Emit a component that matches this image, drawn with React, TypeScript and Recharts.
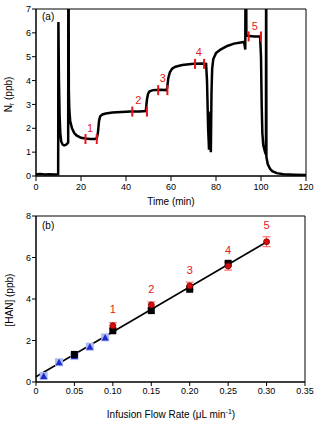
import React from "react";
import {
  ComposedChart,
  Line,
  Scatter,
  XAxis,
  YAxis,
  ReferenceArea,
  ErrorBar,
} from "recharts";

// panel (a): time trace
const traceT = [
  0, 2, 4, 6, 8, 9.7, 9.85, 9.95, 10.2, 10.5, 10.8, 11.2, 11.8, 12.5, 13.2, 13.8, 14.3, 14.4,
  14.6, 14.8, 15.2, 16, 17, 18, 19, 20, 22, 24, 26, 27, 27.5, 28, 28.5, 29.5, 31, 34, 38, 42,
  46, 48.8, 49.3, 49.8, 50.5, 52, 55, 58, 58.3, 58.8, 59.5, 60.5, 62, 65, 70, 74, 75.6, 76.0,
  76.5, 76.9, 77.1, 77.3, 77.5, 77.7, 78.0, 78.3, 78.8, 80, 82, 85, 88, 91, 92.5, 93.0, 93.3,
  93.5, 94, 97, 99.6, 100.0, 100.3, 100.6, 101, 101.8, 102.2, 102.3, 102.4, 103, 104, 105,
  107, 110, 115, 120,
];
const traceV = [
  0.07, 0.08, 0.06, 0.07, 0.06, 0.07, 0.07, 6.45, 4.0, 2.5, 1.8, 1.45, 1.32, 1.28, 1.3, 1.35,
  1.4, 12, 3.6, 2.8, 2.3, 2.0, 1.8, 1.7, 1.65, 1.6, 1.57, 1.55, 1.55, 1.57, 1.8, 2.3, 2.5,
  2.58, 2.62, 2.66, 2.68, 2.7, 2.7, 2.72, 3.2, 3.45, 3.55, 3.6, 3.62, 3.6, 3.7, 4.1, 4.35,
  4.5, 4.58, 4.65, 4.7, 4.72, 4.7, 4.0, 2.0, 1.1, 2.3, 1.2, 2.7, 1.0, 3.5, 4.5, 4.9, 5.15,
  5.3, 5.45, 5.55, 5.6, 5.62, 5.3, 12, 5.9, 5.88, 5.85, 5.85, 5.0, 3.0, 1.8, 1.3, 1.0, 0.9,
  12, 0.8, 0.5, 0.3, 0.2, 0.12, 0.07, 0.05, 0.04,
];
const markT = [22, 27, 42.8, 49.3, 54.3, 58.4, 70.7, 74.7, 94.5, 100];
const markV = [1.55, 1.55, 2.7, 2.7, 3.6, 3.6, 4.7, 4.7, 5.85, 5.85];
const stepLabelT = [24, 45.5, 56.4, 72.4, 97.3];
const stepLabelV = [2.0, 3.18, 4.1, 5.2, 6.3];
const stepNames = ["1", "2", "3", "4", "5"];
const xTicksA = [0, 20, 40, 60, 80, 100, 120];
const yTicksA = [0, 1, 2, 3, 4, 5, 6, 7];

// panel (b): calibration
const blueX = [0.01, 0.03, 0.05, 0.07, 0.09];
const blueY = [0.29, 0.95, 1.25, 1.7, 2.15];
const blackX = [0.05, 0.1, 0.15, 0.2, 0.25];
const blackY = [1.33, 2.47, 3.44, 4.47, 5.72];
const blackErr = [0.1, 0.1, 0.12, 0.12, 0.12];
const redX = [0.1, 0.15, 0.2, 0.25, 0.3];
const redY = [2.71, 3.71, 4.63, 5.59, 6.76];
const redErr = [0.15, 0.15, 0.18, 0.2, 0.24];
const redLabelY = [3.5, 4.48, 5.4, 6.36, 7.57];
const fitX = [0, 0.3];
const fitY = [0.25, 6.75];
const xTicksB = [0, 0.05, 0.1, 0.15, 0.2, 0.25, 0.3, 0.35];
const xTickLabelsB = ["0", "0.05", "0.10", "0.15", "0.20", "0.25", "0.30", "0.35"];
const yTicksB = [0, 2, 4, 6, 8];

const trace = traceT.map((t, i) => ({ t, v: traceV[i] }));
const marks = markT.map((t, i) => ({ t, v: markV[i] }));
const stepLabels = stepLabelT.map((t, i) => ({ t, v: stepLabelV[i], s: stepNames[i] }));
const blue = blueX.map((x, i) => ({ x, y: blueY[i] }));
const black = blackX.map((x, i) => ({ x, y: blackY[i], e: blackErr[i] }));
const red = redX.map((x, i) => ({ x, y: redY[i], e: redErr[i] }));
const redLabels = redX.map((x, i) => ({ x, y: redLabelY[i], s: stepNames[i] }));
const fit = fitX.map((x, i) => ({ x, y: fitY[i] }));

const FONT = "'Liberation Sans', Arial, sans-serif";
const RED = "#e8141a";
const tickStyle = { fill: "#000", fontSize: 9, fontFamily: FONT };

const RedTick = (p: any) => (
  <line x1={p.cx} x2={p.cx} y1={p.cy - 5} y2={p.cy + 5} stroke={RED} strokeWidth={2} />
);
const NumLabel = (p: any) => (
  <text
    x={p.cx}
    y={p.cy}
    textAnchor="middle"
    dominantBaseline="central"
    fill={RED}
    fontSize={11}
    fontFamily={FONT}
  >
    {p.payload.s}
  </text>
);
const BlueTri = (p: any) => (
  <g>
    <rect x={p.cx - 4} y={p.cy - 4} width={8} height={8} fill="#a9b8f0" />
    <polygon
      points={`${p.cx},${p.cy - 3.5} ${p.cx - 3.5},${p.cy + 3} ${p.cx + 3.5},${p.cy + 3}`}
      fill="#1e2ad0"
    />
  </g>
);
const BlackSq = (p: any) => (
  <rect x={p.cx - 3.5} y={p.cy - 3.5} width={7} height={7} fill="#000" />
);
const RedDot = (p: any) => (
  <circle cx={p.cx} cy={p.cy} r={3} fill="#d80c0c" stroke="#7a0000" strokeWidth={0.8} />
);

const txt: React.CSSProperties = {
  position: "absolute",
  fontFamily: FONT,
  fontSize: 10,
  color: "#000",
  whiteSpace: "nowrap",
  lineHeight: "12px",
};

export default function App() {
  return (
    <div style={{ position: "absolute", left: 0, top: 0, width: 320, height: 422, background: "#fff" }}>
      <div style={{ position: "absolute", left: 0, top: 0 }}>
        <ComposedChart
          width={320}
          height={206}
          data={trace}
          margin={{ top: 9, right: 14, bottom: 0, left: 0 }}
        >
          <XAxis
            dataKey="t"
            type="number"
            domain={[0, 120]}
            ticks={xTicksA}
            height={30}
            tickSize={5}
            tickMargin={3}
            tick={tickStyle}
            stroke="#000"
          />
          <YAxis
            type="number"
            domain={[0, 7]}
            ticks={yTicksA}
            allowDataOverflow
            width={36}
            tickSize={4}
            tickMargin={1}
            tick={tickStyle}
            stroke="#000"
          />
          <ReferenceArea x1={0} x2={120} y1={0} y2={7} fill="none" stroke="#000" strokeWidth={1} />
          <Line
            dataKey="v"
            stroke="#000"
            strokeWidth={2.5}
            dot={false}
            type="linear"
            isAnimationActive={false}
          />
          <Scatter data={marks} dataKey="v" shape={RedTick} isAnimationActive={false} />
          <Scatter data={stepLabels} dataKey="v" shape={NumLabel} isAnimationActive={false} />
        </ComposedChart>
      </div>

      <div style={{ position: "absolute", left: 0, top: 210 }}>
        <ComposedChart width={320} height={212} margin={{ top: 6, right: 15, bottom: 0, left: 0 }}>
          <XAxis
            dataKey="x"
            type="number"
            domain={[0, 0.35]}
            ticks={xTicksB}
            tickFormatter={(v: number) => xTickLabelsB[xTicksB.indexOf(v)] ?? String(v)}
            height={40}
            tickSize={4}
            tickMargin={2}
            tick={tickStyle}
            stroke="#000"
          />
          <YAxis
            type="number"
            domain={[0, 8]}
            ticks={yTicksB}
            width={36}
            tickSize={4}
            tickMargin={1}
            tick={tickStyle}
            stroke="#000"
          />
          <ReferenceArea x1={0} x2={0.35} y1={0} y2={8} fill="none" stroke="#000" strokeWidth={1} />
          <Scatter
            data={fit}
            dataKey="y"
            line={{ stroke: "#000", strokeWidth: 1.6 }}
            shape={() => <g />}
            isAnimationActive={false}
          />
          <Scatter data={blue} dataKey="y" shape={BlueTri} isAnimationActive={false} />
          <Scatter data={black} dataKey="y" shape={BlackSq} isAnimationActive={false}>
            <ErrorBar dataKey="e" direction="y" width={3} stroke="#777" strokeWidth={1} />
          </Scatter>
          <Scatter data={red} dataKey="y" shape={RedDot} isAnimationActive={false}>
            <ErrorBar dataKey="e" direction="y" width={4} stroke="#ff5a5a" strokeWidth={1} />
          </Scatter>
          <Scatter data={redLabels} dataKey="y" shape={NumLabel} isAnimationActive={false} />
        </ComposedChart>
      </div>

      <div style={{ ...txt, left: 42, top: 11 }}>(a)</div>
      <div style={{ ...txt, left: 42, top: 220 }}>(b)</div>
      <div style={{ ...txt, left: -40, top: 87, width: 100, textAlign: "center", transform: "rotate(-90deg)" }}>
        N<sub style={{ fontSize: 7, verticalAlign: "-2px" }}>r</sub> (ppb)
      </div>
      <div style={{ ...txt, left: 0, top: 196, width: 342, textAlign: "center" }}>Time (min)</div>
      <div style={{ ...txt, left: -40, top: 294, width: 100, textAlign: "center", transform: "rotate(-90deg)" }}>
        [HAN] (ppb)
      </div>
      <div style={{ ...txt, left: 0, top: 406, width: 342, textAlign: "center" }}>
        Infusion Flow Rate (μL min<sup style={{ fontSize: 7, verticalAlign: "4px" }}>-1</sup>)
      </div>
    </div>
  );
}
